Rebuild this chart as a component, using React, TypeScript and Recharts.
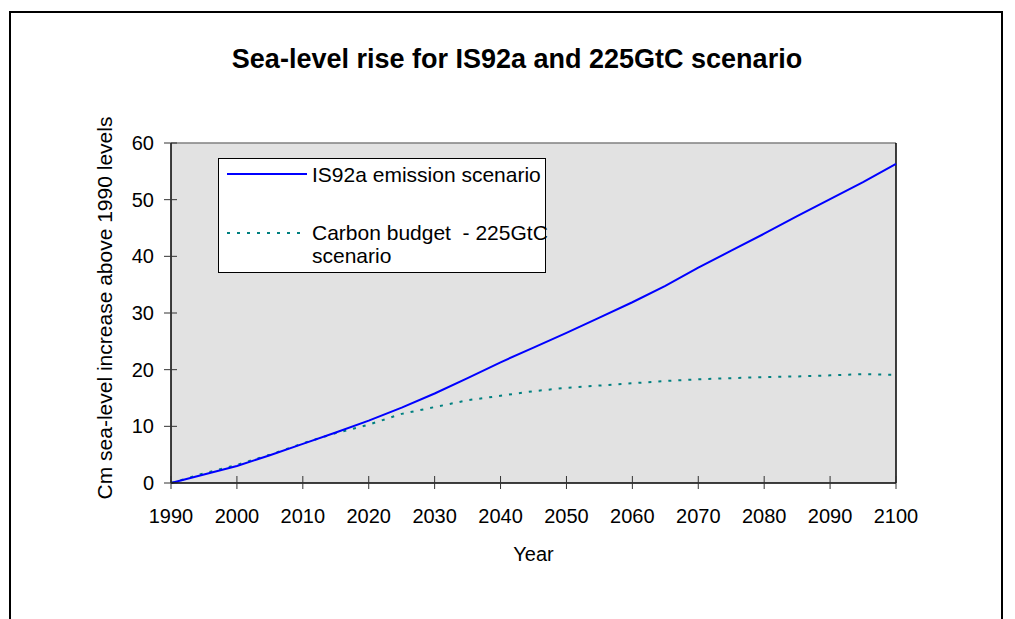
import React from 'react';
import { LineChart, Line, XAxis, YAxis, CartesianGrid, ReferenceLine, Legend } from 'recharts';

const years = [1990, 1995, 2000, 2005, 2010, 2015, 2020, 2025, 2030, 2035, 2040, 2045, 2050, 2055, 2060, 2065, 2070, 2075, 2080, 2085, 2090, 2095, 2100];
const is92a = [0, 1.5, 3.0, 4.9, 6.9, 8.9, 11.0, 13.3, 15.8, 18.5, 21.3, 23.9, 26.5, 29.2, 31.9, 34.8, 38.0, 41.0, 44.0, 47.1, 50.1, 53.1, 56.3];
const budget225 = [0, 1.7, 3.2, 5.0, 7.0, 8.8, 10.3, 12.2, 13.4, 14.6, 15.4, 16.2, 16.8, 17.2, 17.6, 18.0, 18.3, 18.5, 18.7, 18.8, 19.0, 19.2, 19.1];
const xTicks = [1990, 2000, 2010, 2020, 2030, 2040, 2050, 2060, 2070, 2080, 2090, 2100];
const yTicks = [0, 10, 20, 30, 40, 50, 60];

const data = years.map((y, i) => ({ year: y, is92a: is92a[i], budget: budget225[i] }));

const FONT = '"Liberation Sans", Arial, sans-serif';

const XTick = (props: any) => {
  const { x, y, payload } = props;
  return (
    <g>
      <line x1={x} x2={x} y1={y - 7} y2={y + 6} stroke="#333" strokeWidth={1} />
      <text x={x} y={y + 40} textAnchor="middle" fontSize={20} fontFamily={FONT} fill="#000">
        {payload.value}
      </text>
    </g>
  );
};

const YTick = (props: any) => {
  const { x, y, payload } = props;
  return (
    <g>
      <line x1={x - 7} x2={x + 6} y1={y} y2={y} stroke="#333" strokeWidth={1} />
      <text x={x - 17} y={y + 7} textAnchor="end" fontSize={20} fontFamily={FONT} fill="#000">
        {payload.value}
      </text>
    </g>
  );
};

const YLabel = (props: any) => {
  const { viewBox } = props;
  const cx = viewBox.x + viewBox.width - 7 - 52;
  const cy = viewBox.y + viewBox.height / 2 - 5;
  return (
    <text x={cx} y={cy} transform={`rotate(-90, ${cx}, ${cy})`} textAnchor="middle" fontSize={21} fontFamily={FONT} fill="#000">
      Cm sea-level increase above 1990 levels
    </text>
  );
};

const XLabel = (props: any) => {
  const { viewBox } = props;
  return (
    <text x={viewBox.x + viewBox.width / 2} y={561} textAnchor="middle" fontSize={20} fontFamily={FONT} fill="#000">
      Year
    </text>
  );
};

const LegendBox = () => (
  <div
    style={{
      width: 328,
      height: 115,
      boxSizing: 'border-box',
      border: '1px solid #000',
      background: '#fff',
      position: 'relative',
      fontFamily: FONT,
      fontSize: 21,
      color: '#000',
    }}
  >
    <svg width={100} height={115} style={{ position: 'absolute', left: 0, top: 0 }}>
      <line x1={8} x2={88} y1={15} y2={15} stroke="#0000ff" strokeWidth={2} />
      <line x1={8} x2={82} y1={74} y2={74} stroke="#008080" strokeWidth={2} strokeDasharray="3 7" />
    </svg>
    <div style={{ position: 'absolute', left: 93, top: 4, whiteSpace: 'nowrap', lineHeight: '24px' }}>IS92a emission scenario</div>
    <div style={{ position: 'absolute', left: 93, top: 62, whiteSpace: 'pre', lineHeight: '23px' }}>
      {'Carbon budget  - 225GtC\nscenario'}
    </div>
  </div>
);

export default function App() {
  return (
    <div style={{ position: 'relative', width: 1015, height: 619, overflow: 'hidden', background: '#fff' }}>
      <style>{'html,body{margin:0;padding:0;overflow:hidden;}'}</style>
      <div
        style={{
          position: 'absolute',
          left: 9,
          top: 11,
          width: 994,
          height: 700,
          border: '2px solid #000',
          boxSizing: 'border-box',
        }}
      />
      <div
        style={{
          position: 'absolute',
          left: 0,
          top: 44,
          width: 1034,
          textAlign: 'center',
          fontFamily: FONT,
          fontWeight: 'bold',
          fontSize: 27,
          lineHeight: '30px',
        }}
      >
        Sea-level rise for IS92a and 225GtC scenario
      </div>
      <div style={{ position: 'absolute', left: 0, top: 0 }}>
        <LineChart width={1015} height={619} data={data} margin={{ top: 143, right: 119, bottom: 96, left: 111 }}>
          <CartesianGrid fill="#e2e2e2" horizontal={false} vertical={false} stroke="none" />
          <XAxis
            dataKey="year"
            type="number"
            domain={[1990, 2100]}
            ticks={xTicks}
            interval={0}
            tickLine={false}
            tickSize={0}
            tickMargin={0}
            height={40}
            axisLine={{ stroke: '#000', strokeWidth: 1.5 }}
            tick={<XTick />}
            label={<XLabel />}
          />
          <YAxis
            type="number"
            domain={[0, 60]}
            ticks={yTicks}
            interval={0}
            tickLine={false}
            tickSize={0}
            tickMargin={0}
            width={60}
            axisLine={{ stroke: '#000', strokeWidth: 1.5 }}
            tick={<YTick />}
            label={<YLabel />}
          />
          <ReferenceLine y={60} stroke="#808080" strokeWidth={1.5} />
          <ReferenceLine x={2100} stroke="#000" strokeWidth={1.5} />
          <Legend
            layout="horizontal"
            align="center"
            verticalAlign="middle"
            content={<LegendBox />}
            wrapperStyle={{ position: 'absolute', left: 218, top: 158, width: 328, height: 115 }}
          />
          <Line
            type="linear"
            dataKey="budget"
            name="Carbon budget  - 225GtC scenario"
            stroke="#008080"
            strokeWidth={2}
            strokeDasharray="3 7"
            dot={false}
            isAnimationActive={false}
          />
          <Line
            type="linear"
            dataKey="is92a"
            name="IS92a emission scenario"
            stroke="#0000ff"
            strokeWidth={2}
            dot={false}
            isAnimationActive={false}
          />
        </LineChart>
      </div>
    </div>
  );
}
